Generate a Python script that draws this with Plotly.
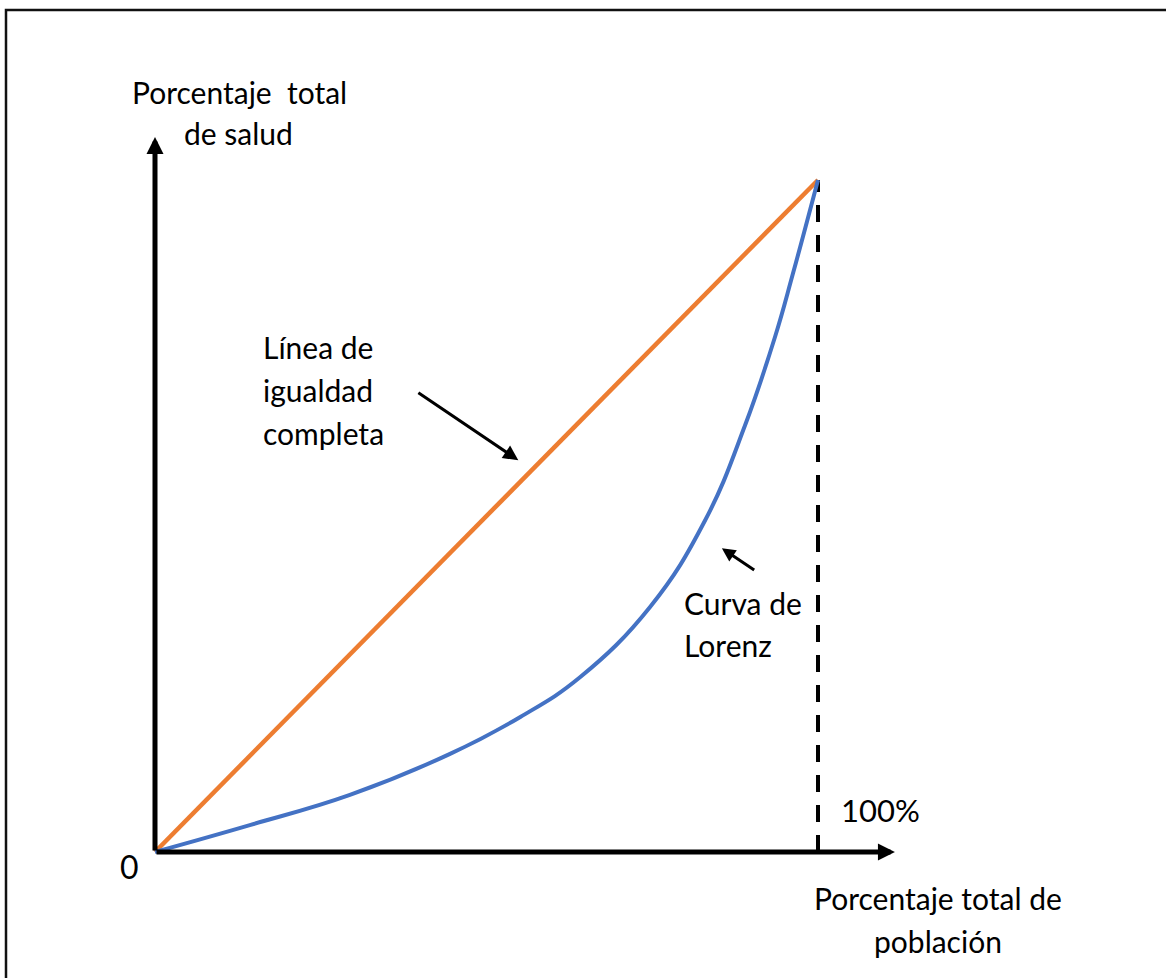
import plotly.graph_objects as go

W, H = 1166, 978
# pixel mapping of the 0..100 data box
X0PX, X100PX = 155, 818
Y0PX, Y100PX = 852, 180
SX = (X100PX - X0PX) / 100.0
SY = (Y0PX - Y100PX) / 100.0

# data (percent of population vs percent of health)
equality_x = [0, 100]
equality_y = [0, 100]
lorenz_x = [0, 14.3, 29.4, 44.5, 55.1, 64.1, 74.7, 83.0, 89.0, 93.5, 96.2, 100]
lorenz_y = [0, 4.0, 8.5, 14.6, 20.1, 26.0, 36.5, 49.4, 63.5, 76.6, 86.0, 100]
full_x = [100, 100]
full_y = [0, 100]
axis_tip_x = 111.6
axis_tip_y = 106.4

FONT = "Lato"
FS = 30


def px(xp):
    return xp / W


def py(yp):
    return 1 - yp / H


fig = go.Figure()
fig.add_trace(go.Scatter(x=full_x, y=full_y, mode="lines",
                         line=dict(color="black", width=4, dash="17px,13px"),
                         hoverinfo="skip"))
fig.add_trace(go.Scatter(x=equality_x, y=equality_y, mode="lines",
                         line=dict(color="#ED7D31", width=4.5), hoverinfo="skip"))
fig.add_trace(go.Scatter(x=lorenz_x, y=lorenz_y, mode="lines",
                         line=dict(color="#4472C4", width=4, shape="spline", smoothing=1.2),
                         hoverinfo="skip"))

annotations = []
# axes arrows
annotations.append(dict(x=0, y=axis_tip_y, ax=0, ay=0, xref="x", yref="y", axref="x", ayref="y",
                        text="", showarrow=True, arrowhead=2, arrowwidth=5, arrowsize=0.68,
                        arrowcolor="black", standoff=0, startstandoff=0))
annotations.append(dict(x=axis_tip_x, y=0, ax=0, ay=0, xref="x", yref="y", axref="x", ayref="y",
                        text="", showarrow=True, arrowhead=2, arrowwidth=5, arrowsize=0.68,
                        arrowcolor="black", standoff=0, startstandoff=0))
# pointer arrows
annotations.append(dict(x=54.8, y=58.3, ax=39.5, ay=68.5, xref="x", yref="y", axref="x", ayref="y",
                        text="", showarrow=True, arrowhead=2, arrowwidth=3, arrowsize=1.0,
                        arrowcolor="black", standoff=0))
annotations.append(dict(x=85.5, y=45.2, ax=90.6, ay=41.8, xref="x", yref="y", axref="x", ayref="y",
                        text="", showarrow=True, arrowhead=2, arrowwidth=3, arrowsize=0.9,
                        arrowcolor="black", standoff=0))


def label(text, xp, yp, xanchor="center", size=FS):
    annotations.append(dict(x=px(xp), y=py(yp), xref="paper", yref="paper", text=text,
                            showarrow=False, xanchor=xanchor, yanchor="middle",
                            font=dict(family=FONT, size=size, color="black")))


label("Porcentaje&nbsp;&nbsp;total", 239, 92)
label("de salud", 238, 133)
label("0", 129, 866, size=32)
label("100%", 880, 810, size=31)
label("Porcentaje total de", 938, 898)
label("población", 938, 941)
label("Línea de", 261, 347, xanchor="left")
label("igualdad", 261, 390, xanchor="left")
label("completa", 261, 433, xanchor="left")
label("Curva de", 682, 603, xanchor="left")
label("Lorenz", 682, 645, xanchor="left")

fig.update_layout(
    width=W, height=H,
    margin=dict(l=0, r=0, t=0, b=0),
    paper_bgcolor="white", plot_bgcolor="white",
    showlegend=False,
    xaxis=dict(range=[-X0PX / SX, (W - X0PX) / SX], visible=False, fixedrange=True),
    yaxis=dict(range=[(Y0PX - H) / SY, Y0PX / SY], visible=False, fixedrange=True),
    annotations=annotations,
    shapes=[dict(type="rect", xref="paper", yref="paper",
                 x0=px(6), x1=1.05, y0=-0.05, y1=py(10),
                 line=dict(color="#111111", width=2.5), fillcolor="rgba(0,0,0,0)", layer="below")],
)

fig.write_html("out.html", config={"displayModeBar": False},
               post_script="document.body.style.margin='0px';document.body.style.padding='0px';")
